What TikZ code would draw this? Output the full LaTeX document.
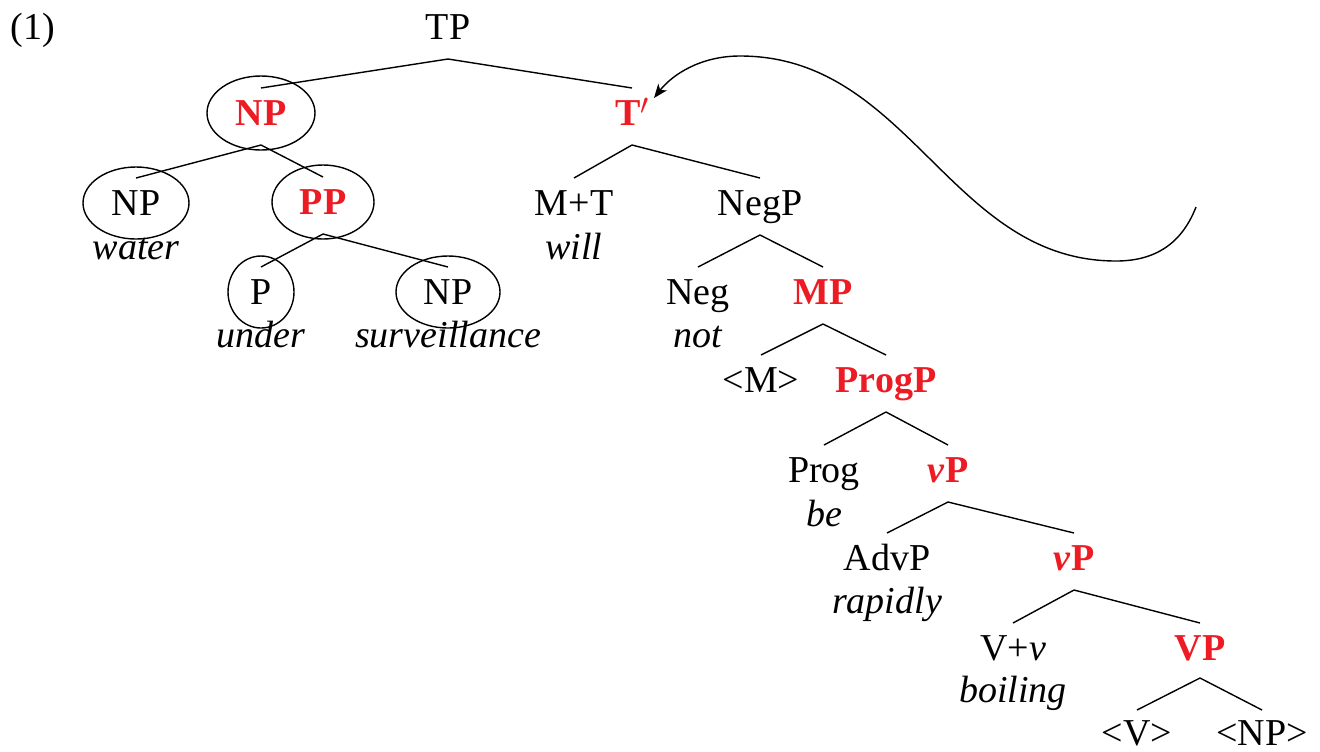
\documentclass[tikz,border=0pt]{standalone}
\usepackage{fontspec}
\setmainfont{Liberation Serif}
\usetikzlibrary{arrows.meta}
\definecolor{tred}{RGB}{237,28,36}
\begin{document}
\begin{tikzpicture}[x=0.5pt,y=-0.5pt,
  every node/.style={font=\fontsize{19}{23}\selectfont, inner sep=0pt},
  lab/.style={text height=12.6pt, text depth=0pt, anchor=center},
  hd/.style={lab, text=tred, font=\fontsize{19}{23}\selectfont\bfseries},
  wd/.style={anchor=base, font=\fontsize{19}{23}\selectfont\itshape},
  br/.style={line width=0.7pt},
  ring/.style={line width=0.7pt}]
\useasboundingbox (0,0) rectangle (1320,751);
\newcommand{\branch}[2]{\draw[br] ([yshift=-16pt]#1.center) -- ([yshift=12.5pt]#2.center);}
% labels
\node[lab] (ex) at (33,27) {(1)};
\node[lab] (TP) at (448,27) {TP};
\node[hd] (NPa) at (261,113) {NP};
\node[hd] (Tb) at (632,113) {T\raisebox{5.5pt}{\scalebox{0.85}{$\prime$}}};
\node[lab] (NPw) at (136,203) {NP};
\node[wd] (water) at (136,259) {water};
\node[hd] (PP) at (323,202) {PP};
\node[lab] (P) at (261,292) {P};
\node[wd] (under) at (261,347) {under};
\node[lab] (NPs) at (448,292) {NP};
\node[wd] (surv) at (448,347) {surveillance};
\node[lab] (MT) at (574,203) {M+T};
\node[wd] (will) at (574,259) {will};
\node[lab] (NegP) at (760,203) {NegP};
\node[lab] (Neg) at (698,292) {Neg};
\node[wd] (not) at (698,347) {not};
\node[hd] (MP) at (823,292) {MP};
\node[lab] (M) at (761,380) {<M>};
\node[hd] (ProgP) at (886,380) {ProgP};
\node[lab] (Prog) at (824,470) {Prog};
\node[wd] (be) at (824,526) {be};
\node[hd] (vPa) at (948,470) {\textit{v}P};
\node[lab] (AdvP) at (887,558) {AdvP};
\node[wd] (rapidly) at (887,613) {rapidly};
\node[hd] (vPb) at (1074,558) {\textit{v}P};
\node[lab] (Vv) at (1013,648) {V+\textit{v}};
\node[wd] (boiling) at (1013,702) {boiling};
\node[hd] (VP) at (1200,648) {VP};
\node[lab] (V) at (1137,733) {<V>};
\node[lab] (NPt) at (1262,733) {<NP>};
% ellipses
\draw[ring] (NPa.center) ellipse [x radius=27pt, y radius=18.5pt];
\draw[ring] (NPw.center) ellipse [x radius=26.5pt, y radius=18pt];
\draw[ring] (PP.center) ellipse [x radius=25.5pt, y radius=18.5pt];
\draw[ring] (P.center) ellipse [x radius=16.5pt, y radius=18pt];
\draw[ring] (NPs.center) ellipse [x radius=26pt, y radius=18pt];
% branches
\branch{TP}{NPa}
\branch{TP}{Tb}
\branch{NPa}{NPw}
\branch{NPa}{PP}
\branch{PP}{P}
\branch{PP}{NPs}
\branch{Tb}{MT}
\branch{Tb}{NegP}
\branch{NegP}{Neg}
\branch{NegP}{MP}
\branch{MP}{M}
\branch{MP}{ProgP}
\branch{ProgP}{Prog}
\branch{ProgP}{vPa}
\branch{vPa}{AdvP}
\branch{vPa}{vPb}
\branch{vPb}{Vv}
\branch{vPb}{VP}
\draw[br] ([yshift=-15pt]VP.center) -- ([yshift=11.5pt]V.center);
\draw[br] ([yshift=-15pt]VP.center) -- ([yshift=11.5pt]NPt.center);
% movement curve
\coordinate (cs) at (1196,207);
\coordinate (ctip) at (654,98);
\draw[line width=0.7pt, -{Stealth[length=7pt,width=5.5pt,inset=2pt]}]
  (cs) .. controls (1180,248) and (1150,261) .. (1116,261)
       .. controls (950,261) and (910,56) .. (740,56)
       .. controls (700,56) and (672,75) .. (ctip);
\end{tikzpicture}
\end{document}
